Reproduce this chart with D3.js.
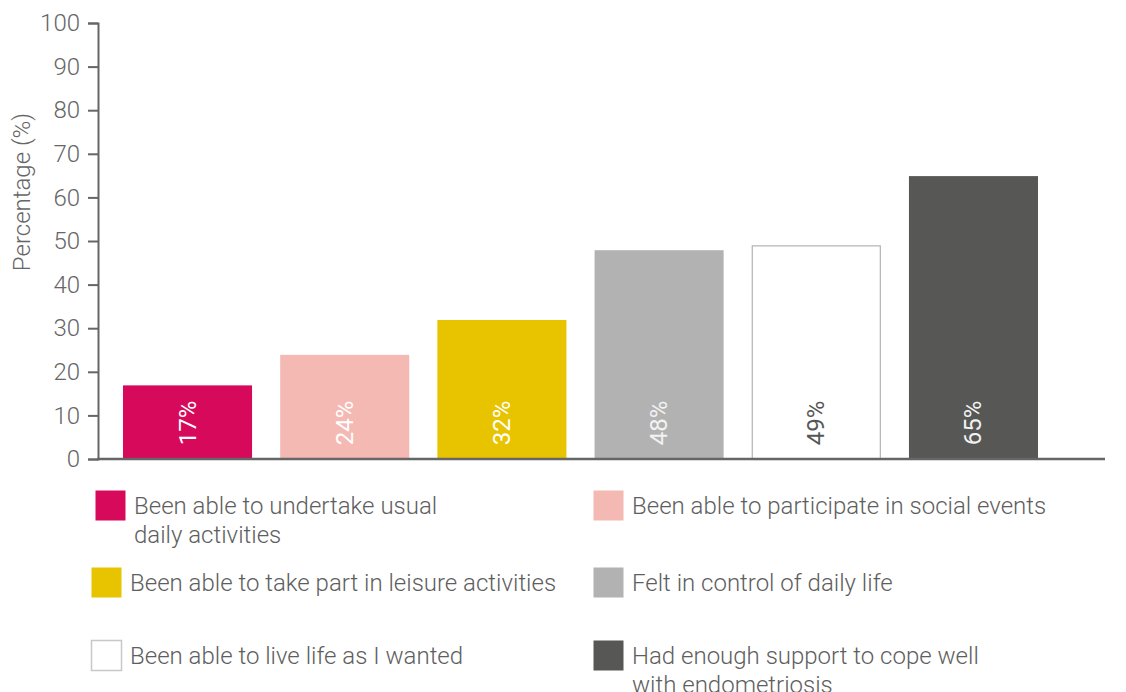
<!DOCTYPE html>
<html><head><meta charset="utf-8">
<script src="https://cdn.jsdelivr.net/npm/d3@7"></script>
<style>
body{margin:0;background:#fff;}
text{font-family:Roboto,"Open Sans",sans-serif;font-weight:300;}
</style></head>
<body><svg id="c" width="1126" height="692"></svg>
<script>
const categories = ["Been able to undertake usual daily activities","Been able to participate in social events","Been able to take part in leisure activities","Felt in control of daily life","Been able to live life as I wanted","Had enough support to cope well with endometriosis"];
const values = [17, 24, 32, 48, 49, 65];
const colors = ["#d7095b","#f4b9b2","#e8c300","#b2b2b2","#ffffff","#575755"];
const labelColors = ["#ffffff","#ffffff","#ffffff","#f2f2f2","#575757","#f2f2f2"];
const legendLines = [["Been able to undertake usual","daily activities"],["Been able to participate in social events"],["Been able to take part in leisure activities"],["Felt in control of daily life"],["Been able to live life as I wanted"],["Had enough support to cope well","with endometriosis"]];
const yTicks = [0,10,20,30,40,50,60,70,80,90,100];

const svg = d3.select("#c");
const y = d3.scaleLinear().domain([0,100]).range([459,23]);
const x = d3.scaleBand().domain(categories).range([123,1038]).paddingInner(0.179).paddingOuter(0);

// bars
svg.selectAll("rect.bar").data(values).enter().append("rect")
  .attr("x",(d,i)=>x(categories[i])+(i===4?0.5:0))
  .attr("width",(d,i)=>x.bandwidth()-(i===4?1:0))
  .attr("y",d=>y(d)+0.5)
  .attr("height",d=>y(0)-y(d))
  .attr("fill",(d,i)=>colors[i])
  .attr("stroke",(d,i)=>i===4?"#b3b3b3":"none")
  .attr("stroke-width",1.2);

// y axis
const ya = svg.append("g").attr("transform","translate(98,0)")
  .call(d3.axisLeft(y).tickValues(yTicks).tickSize(10).tickPadding(8));
ya.select(".domain").attr("stroke","#666").attr("stroke-width",2);
ya.selectAll(".tick line").attr("stroke","#666").attr("stroke-width",2);
ya.selectAll(".tick text").attr("fill","#666").style("font-size","24px").style("font-family","Roboto").style("font-weight","300");

// x baseline
svg.append("line").attr("x1",97).attr("x2",1105).attr("y1",y(0)).attr("y2",y(0))
  .attr("stroke","#666").attr("stroke-width",2.5);

// y label
svg.append("text").attr("transform","translate(30,192) rotate(-90)")
  .attr("text-anchor","middle").attr("fill","#666").style("font-size","24px")
  .text("Percentage (%)");

// value labels
svg.selectAll("text.val").data(values).enter().append("text")
  .attr("transform",(d,i)=>`translate(${x(categories[i])+x.bandwidth()/2+8},423) rotate(-90)`)
  .attr("text-anchor","middle").attr("fill",(d,i)=>labelColors[i])
  .style("font-size","24px").style("font-weight","400")
  .text(d=>d+"%");

// legend
const legPos = [[95,490],[593,490],[91,567],[593,567],[91,640],[593,640]];
const lg = svg.selectAll("g.leg").data(legendLines).enter().append("g")
  .attr("transform",(d,i)=>`translate(${legPos[i][0]},${legPos[i][1]})`);
lg.append("rect").attr("x",0.5).attr("y",0.5).attr("width",30).attr("height",30)
  .attr("fill",(d,i)=>colors[i]).attr("stroke",(d,i)=>i===4?"#c8c8c8":"none").attr("stroke-width",1.5);
lg.each(function(lines){
  const t = d3.select(this).append("text").attr("x",39).attr("y",24).attr("fill","#5e5e5e").style("font-size","24px");
  lines.forEach((l,j)=>t.append("tspan").attr("x",39).attr("dy",j===0?0:29).text(l));
});
</script></body></html>
